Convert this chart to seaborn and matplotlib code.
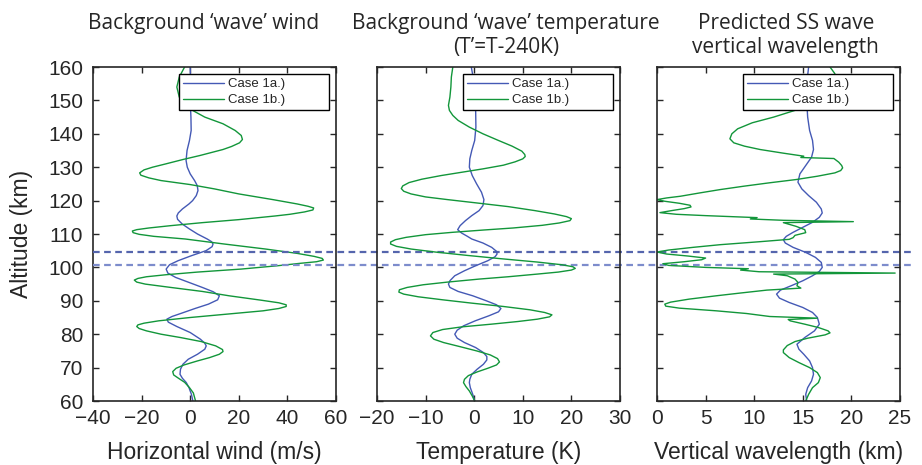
import matplotlib
matplotlib.use("Agg")
import matplotlib.pyplot as plt
import seaborn as sns

# ---- values (altitude in km, then the value at that altitude) ----
wind_1a_alt = [160, 155, 150, 145, 141, 138, 135, 132, 130, 128, 126, 124.5, 123, 121.5, 120,
               119, 117.5, 116.3, 115.4, 114.4, 113, 111.5, 110, 108.5, 107.7, 107, 106.2, 105, 103.5,
               102, 100.8, 99.5, 98.3, 97, 95.5, 94, 92.7, 91.5, 90.3, 89, 87.7, 86.3, 85.3, 84.5,
               83.6, 82.3, 80.5, 78.5, 77.3, 76.5, 75.5, 74, 72.5, 71, 69.5, 68, 66.8, 65.5, 64, 62, 60]
wind_1a = [0.0, 0.2, 0.0, 0.3, 0.4, -0.3, -1.3, -1.7, -1.2, 0.0, 1.8, 2.9, 3.2, 2.5, 1.0,
           -0.5, -3.2, -4.9, -5.5, -5.2, -3.3, -0.3, 3.0, 7.0, 8.8, 9.4, 9.0, 6.5, 0.5,
           -5.0, -8.5, -9.9, -9.2, -6.0, -0.5, 5.0, 9.5, 12.0, 11.3, 7.5, 2.0, -3.5, -7.5, -9.6,
           -9.0, -5.5, 0.0, 4.2, 6.0, 6.6, 6.0, 3.0, -0.8, -3.0, -4.0, -4.2, -3.2, -1.6, -0.5, 0.5, 1.1]

wind_1b_alt = [160, 157, 154, 151, 149, 147, 145, 143, 141, 139.5, 138.3, 137.3, 136.2, 135.3, 133.5,
               132.3, 131, 130, 129.2, 128.3, 127.6, 126.8, 126, 124.8, 123.5, 122, 120.3, 119, 118.3, 117.8,
               117.2, 116.6, 115.9, 115.4, 114.3, 113.4, 112.5, 111.8, 111.3, 110.9, 110.4, 109.9, 109.3, 108.5, 107,
               105.5, 104.2, 103.3, 102.7, 102.2, 101.7, 101.2, 100.5, 99.5, 98.6, 97.8, 97.2, 96.7, 96.2, 95.6,
               95, 94, 92.8, 91.5, 90.2, 89.4, 88.8, 88.3, 87.7, 87, 86, 85, 84, 83.3, 82.8,
               82.3, 81.7, 81, 80, 79, 77.8, 76.5, 75.4, 74.8, 74, 73, 72, 70.8, 69.8, 68.8,
               67.8, 66.8, 65.6, 64, 62.4, 60]
wind_1b = [-2.3, -4.5, -5.5, -4.5, -2.0, 1.0, 6.0, 13.5, 18.5, 21.0, 21.5, 20.3, 17.0, 13.5, 4.0,
           -3.0, -10.0, -15.5, -19.0, -20.8, -20.3, -17.0, -12.0, 0.0, 10.0, 20.0, 34.0, 44.0, 48.5, 50.8,
           50.5, 47.0, 41.0, 35.0, 20.0, 5.0, -8.0, -17.0, -22.0, -23.8, -23.5, -21.0, -15.0, -2.0, 14.0,
           31.0, 44.0, 51.0, 54.3, 54.8, 52.0, 45.0, 36.0, 21.0, 3.0, -10.0, -18.0, -21.5, -23.0, -22.0,
           -18.5, -8.0, 5.0, 16.0, 29.0, 36.5, 39.5, 39.5, 36.5, 30.0, 15.0, 0.0, -13.0, -19.0, -21.5,
           -22.0, -21.0, -18.0, -12.0, -4.0, 4.5, 10.5, 13.3, 13.5, 12.0, 8.0, 3.0, -2.5, -5.8, -7.2,
           -6.8, -4.8, -2.3, -0.3, 1.3, 2.2]

temp_1a_alt = [160, 156, 152, 147, 142, 138, 135, 132.5, 130, 127.5, 125, 122.5, 120.3, 118.5, 117,
               115.5, 114, 112.5, 111.3, 110.3, 109.3, 108.5, 107.3, 106, 104.8, 104, 103.2, 102, 100.5,
               99, 97.5, 96, 95, 94, 92.8, 91.5, 90, 88.8, 87.7, 86.7, 85.5, 84, 82.5, 81.2,
               80, 78.8, 77.5, 76, 74.5, 73.3, 72.3, 71, 69.5, 68, 66.5, 65.5, 64, 62, 60]
temp_1a = [-0.6, -0.1, 0.1, 0.3, 0.35, 0.1, -0.5, -0.9, -1.0, -0.4, 0.5, 1.5, 2.0, 1.8, 1.0,
           -0.5, -1.8, -2.9, -3.4, -2.6, -1.4, -0.5, 1.8, 3.6, 4.6, 4.7, 4.3, 2.8, 0.3,
           -2.0, -4.0, -5.0, -5.3, -5.0, -3.3, -0.3, 2.5, 4.6, 5.5, 5.0, 3.0, 0.2, -2.2, -3.5,
           -4.0, -3.5, -2.0, 0.3, 1.9, 2.6, 2.6, 1.9, 0.6, -0.5, -0.9, -1.0, -0.8, -0.3, 0.1]

temp_1b_alt = [160, 157, 154, 151, 148.5, 147, 145.5, 144, 142, 140, 138, 136.3, 134.8, 133.8, 133.2,
               132.5, 131.6, 130.6, 129.5, 128.5, 127.5, 126.4, 125.4, 124.4, 123.6, 122.8, 122, 121.1, 120.3, 119.3,
               118.2, 117, 116, 115.2, 114.6, 114, 113.3, 112.6, 111.8, 111.2, 110.5, 109.8, 109, 108.3, 107.6,
               107, 106.3, 105.5, 104.6, 103.6, 102.6, 101.6, 100.8, 100.2, 99.7, 99.2, 98.6, 98, 97.2, 96.5,
               95.6, 94.8, 94, 93.3, 92.6, 92, 91.2, 90.3, 89.3, 88.3, 87.3, 86.5, 85.8, 85.2, 84.5,
               83.8, 83, 82.2, 81.4, 80.5, 79.5, 78.5, 77.5, 76.3, 75, 73.8, 72.7, 71.7, 70.8, 69.8,
               68.7, 67.6, 66.5, 65.5, 64.3, 63, 61.5, 60]
temp_1b = [-4.4, -4.7, -4.8, -5.0, -5.3, -5.1, -4.4, -3.3, -1.0, 1.8, 5.0, 7.8, 9.8, 10.4, 10.5,
           10.0, 8.4, 6.0, 1.8, -2.5, -6.8, -10.8, -13.4, -14.7, -15.0, -14.5, -13.0, -10.0, -5.5, 0.5,
           7.0, 12.5, 16.5, 19.0, 20.0, 19.7, 17.5, 14.0, 8.0, 2.0, -4.5, -10.0, -14.0, -16.2, -17.2,
           -17.2, -16.0, -13.0, -8.0, -1.5, 5.5, 13.0, 18.0, 20.3, 20.8, 20.0, 17.3, 13.0, 7.0, 1.0,
           -5.5, -10.5, -13.8, -15.4, -15.5, -14.5, -11.5, -6.5, -0.5, 6.0, 11.5, 14.5, 16.0, 15.5, 13.0,
           9.0, 3.5, -2.5, -6.5, -8.5, -9.0, -8.3, -6.3, -3.0, 0.5, 3.3, 4.8, 5.2, 4.6, 2.8,
           0.6, -1.2, -2.0, -2.2, -1.7, -1.0, -0.4, 0.1]

lam_1a_alt = [160, 155, 150, 145, 141, 138, 135.3, 133, 130.5, 128, 125.5, 123.5, 121.5, 119.5, 117.5,
              116.3, 115, 113.5, 112, 110.5, 109.3, 108.3, 107.3, 106, 104.5, 103, 101.5, 100, 98.8,
              97.5, 96, 94.5, 93.2, 92, 90.8, 89.5, 88, 86.5, 85, 83, 81, 79, 77,
              75.5, 74, 72, 70, 68, 66, 64, 62, 60]
lam_1a = [15.6, 15.4, 15.4, 15.5, 15.7, 16.0, 16.1, 15.9, 15.3, 14.7, 14.5, 14.9, 15.6, 16.4, 16.9,
          17.0, 16.7, 16.0, 15.0, 14.0, 13.3, 13.0, 13.2, 14.0, 15.3, 16.3, 16.9, 17.0, 16.7,
          16.0, 15.0, 13.8, 12.7, 12.3, 12.6, 13.6, 15.0, 16.0, 16.5, 16.7, 16.2, 15.2, 14.4,
          14.6, 15.1, 15.7, 16.0, 16.1, 15.9, 15.5, 15.3, 15.4]

lam_1b_alt = [160, 158, 155, 152, 149, 147.2, 145, 143.3, 141.5, 140, 138.5, 137.3, 136.3, 135.3, 134.2,
              133.3, 132.9, 132.6, 131.5, 130.5, 129.8, 129, 128.3, 127.3, 126.3, 125.3, 124.3, 123.3, 122.3, 121.3,
              120.8, 120.3, 119.8, 119.2, 118.6, 118.1, 117.6, 117, 116.4, 115.9, 115.5, 114.9, 114.5, 114.1, 113.7,
              113.4, 112.3, 111.3, 110.4, 109.6, 108.9, 108.4, 107.7, 106.8, 106, 105.2, 104.6, 104, 103.4, 102.8,
              102.3, 101.7, 101.1, 100.6, 100, 99.6, 99.2, 98.7, 98.3, 98, 97.5, 96.5, 95.5, 94.5, 93.8,
              93.2, 92.3, 91.5, 90.5, 89.6, 89, 88.4, 87.8, 87, 86.2, 85.3, 84.8, 84.4, 84, 83,
              82, 81, 80.4, 79.8, 78.8, 77.8, 76.6, 75.3, 74.5, 73, 71.5, 70, 68.5, 67, 65.5,
              64, 62, 60]
lam_1b = [17.8, 18.3, 18.0, 17.0, 15.5, 14.4, 12.0, 9.8, 8.3, 7.7, 7.5, 7.9, 9.0, 10.6, 13.0,
          15.1, 14.8, 18.2, 18.7, 19.0, 19.1, 18.9, 18.3, 16.5, 14.3, 11.5, 8.9, 6.5, 4.4, 2.4,
          1.0, 0.0, 0.8, 2.3, 3.4, 3.5, 2.8, 1.5, 0.3, 2.0, 5.0, 10.3, 9.6, 13.0, 20.2,
          13.0, 14.3, 15.2, 15.3, 14.2, 14.0, 13.6, 10.6, 6.5, 3.7, 1.2, 0.0, 1.0, 3.2, 5.0,
          4.6, 2.8, 0.6, 1.2, 5.0, 9.4, 8.6, 10.5, 24.5, 12.0, 13.4, 14.2, 14.5, 14.4, 14.8,
          11.3, 8.5, 6.1, 3.3, 1.4, 0.8, 0.9, 2.3, 6.1, 9.2, 11.6, 16.5, 13.5, 13.7, 15.2,
          16.6, 17.6, 17.8, 17.3, 15.5, 14.2, 13.4, 13.0, 13.0, 13.6, 14.6, 15.7, 16.5, 16.8, 16.6,
          16.0, 15.6, 15.3]

dashed_alts = [104.5, 100.8]
case_labels = ["Case 1a.)", "Case 1b.)"]

titles = ["Background \u2018wave\u2019 wind",
          "Background \u2018wave\u2019 temperature\n(T\u2019=T-240K)",
          "Predicted SS wave\nvertical wavelength"]
xlabels = ["Horizontal wind (m/s)", "Temperature (K)", "Vertical wavelength (km)"]
xlims = [(-40, 60), (-20, 30), (0, 25)]
xticks = [[-40, -20, 0, 20, 40, 60], [-20, -10, 0, 10, 20, 30], [0, 5, 10, 15, 20, 25]]
yticks = [60, 70, 80, 90, 100, 110, 120, 130, 140, 150, 160]

BLUE = "#4459b5"
GREEN = "#12963a"
INK = "#262626"

sns.set_style("ticks")
plt.rcParams["font.family"] = ["Liberation Sans", "DejaVu Sans"]
plt.rcParams["text.color"] = INK
plt.rcParams["axes.labelcolor"] = INK

fig = plt.figure(figsize=(9.22, 4.65), dpi=100)
lefts = [93, 377, 657]
axes = [fig.add_axes([l / 922, 1 - 401 / 465, 243 / 922, 334 / 465]) for l in lefts]

panels = [(wind_1a_alt, wind_1a, wind_1b_alt, wind_1b),
          (temp_1a_alt, temp_1a, temp_1b_alt, temp_1b),
          (lam_1a_alt, lam_1a, lam_1b_alt, lam_1b)]
title_x = [0.457, 0.53, 0.53]

for i, (ax, (alt_a, va, alt_b, vb)) in enumerate(zip(axes, panels)):
    ax.patch.set_visible(False)
    sns.lineplot(x=va, y=alt_a, orient="y", sort=False, estimator=None,
                 color=BLUE, lw=1.0, label=case_labels[0], ax=ax)
    sns.lineplot(x=vb, y=alt_b, orient="y", sort=False, estimator=None,
                 color=GREEN, lw=1.0, label=case_labels[1], ax=ax)
    ax.set_xlim(*xlims[i])
    ax.set_ylim(60, 160)
    ax.set_xticks(xticks[i])
    ax.set_yticks(yticks)
    ax.tick_params(direction="in", top=True, right=True, length=4, width=1,
                   labelsize=15, color=INK, labelcolor=INK)
    ax.tick_params(axis="x", pad=6)
    ax.tick_params(axis="y", pad=7)
    for s in ax.spines.values():
        s.set_linewidth(1.2)
        s.set_color(INK)
    if i > 0:
        ax.set_yticklabels([])
        ax.set_ylabel("")
    else:
        ax.set_ylabel("Altitude (km)", fontsize=16.5)
        ax.yaxis.set_label_coords(-0.245, 0.5)
    ax.set_xlabel(xlabels[i], fontsize=16.5)
    ax.xaxis.set_label_coords(0.5, -0.12)
    ax.text(title_x[i], 1.162, titles[i], transform=ax.transAxes, ha="center", va="top",
            fontsize=15, family=["Open Sans", "DejaVu Sans"], linespacing=1.22)
    leg = ax.legend(loc="upper left", bbox_to_anchor=(0.354, 0.5, 0.617, 0.479), mode="expand",
                    fontsize=9.5, frameon=True, fancybox=False, framealpha=1, edgecolor="black",
                    handlelength=3.1, handletextpad=0.3, borderpad=0.3, labelspacing=0.3,
                    borderaxespad=0)
    leg.get_frame().set_linewidth(1.0)

# dashed altitude markers running across all three panels
for alt, col in zip(dashed_alts, ["#5565ad", "#7d8ccc"]):
    axes[0].axhline(alt, xmin=0, xmax=(915 - 93) / 243, color=col, lw=1.6,
                    dashes=(3, 2), clip_on=False, zorder=5)

fig.savefig("out.png", dpi=100)
